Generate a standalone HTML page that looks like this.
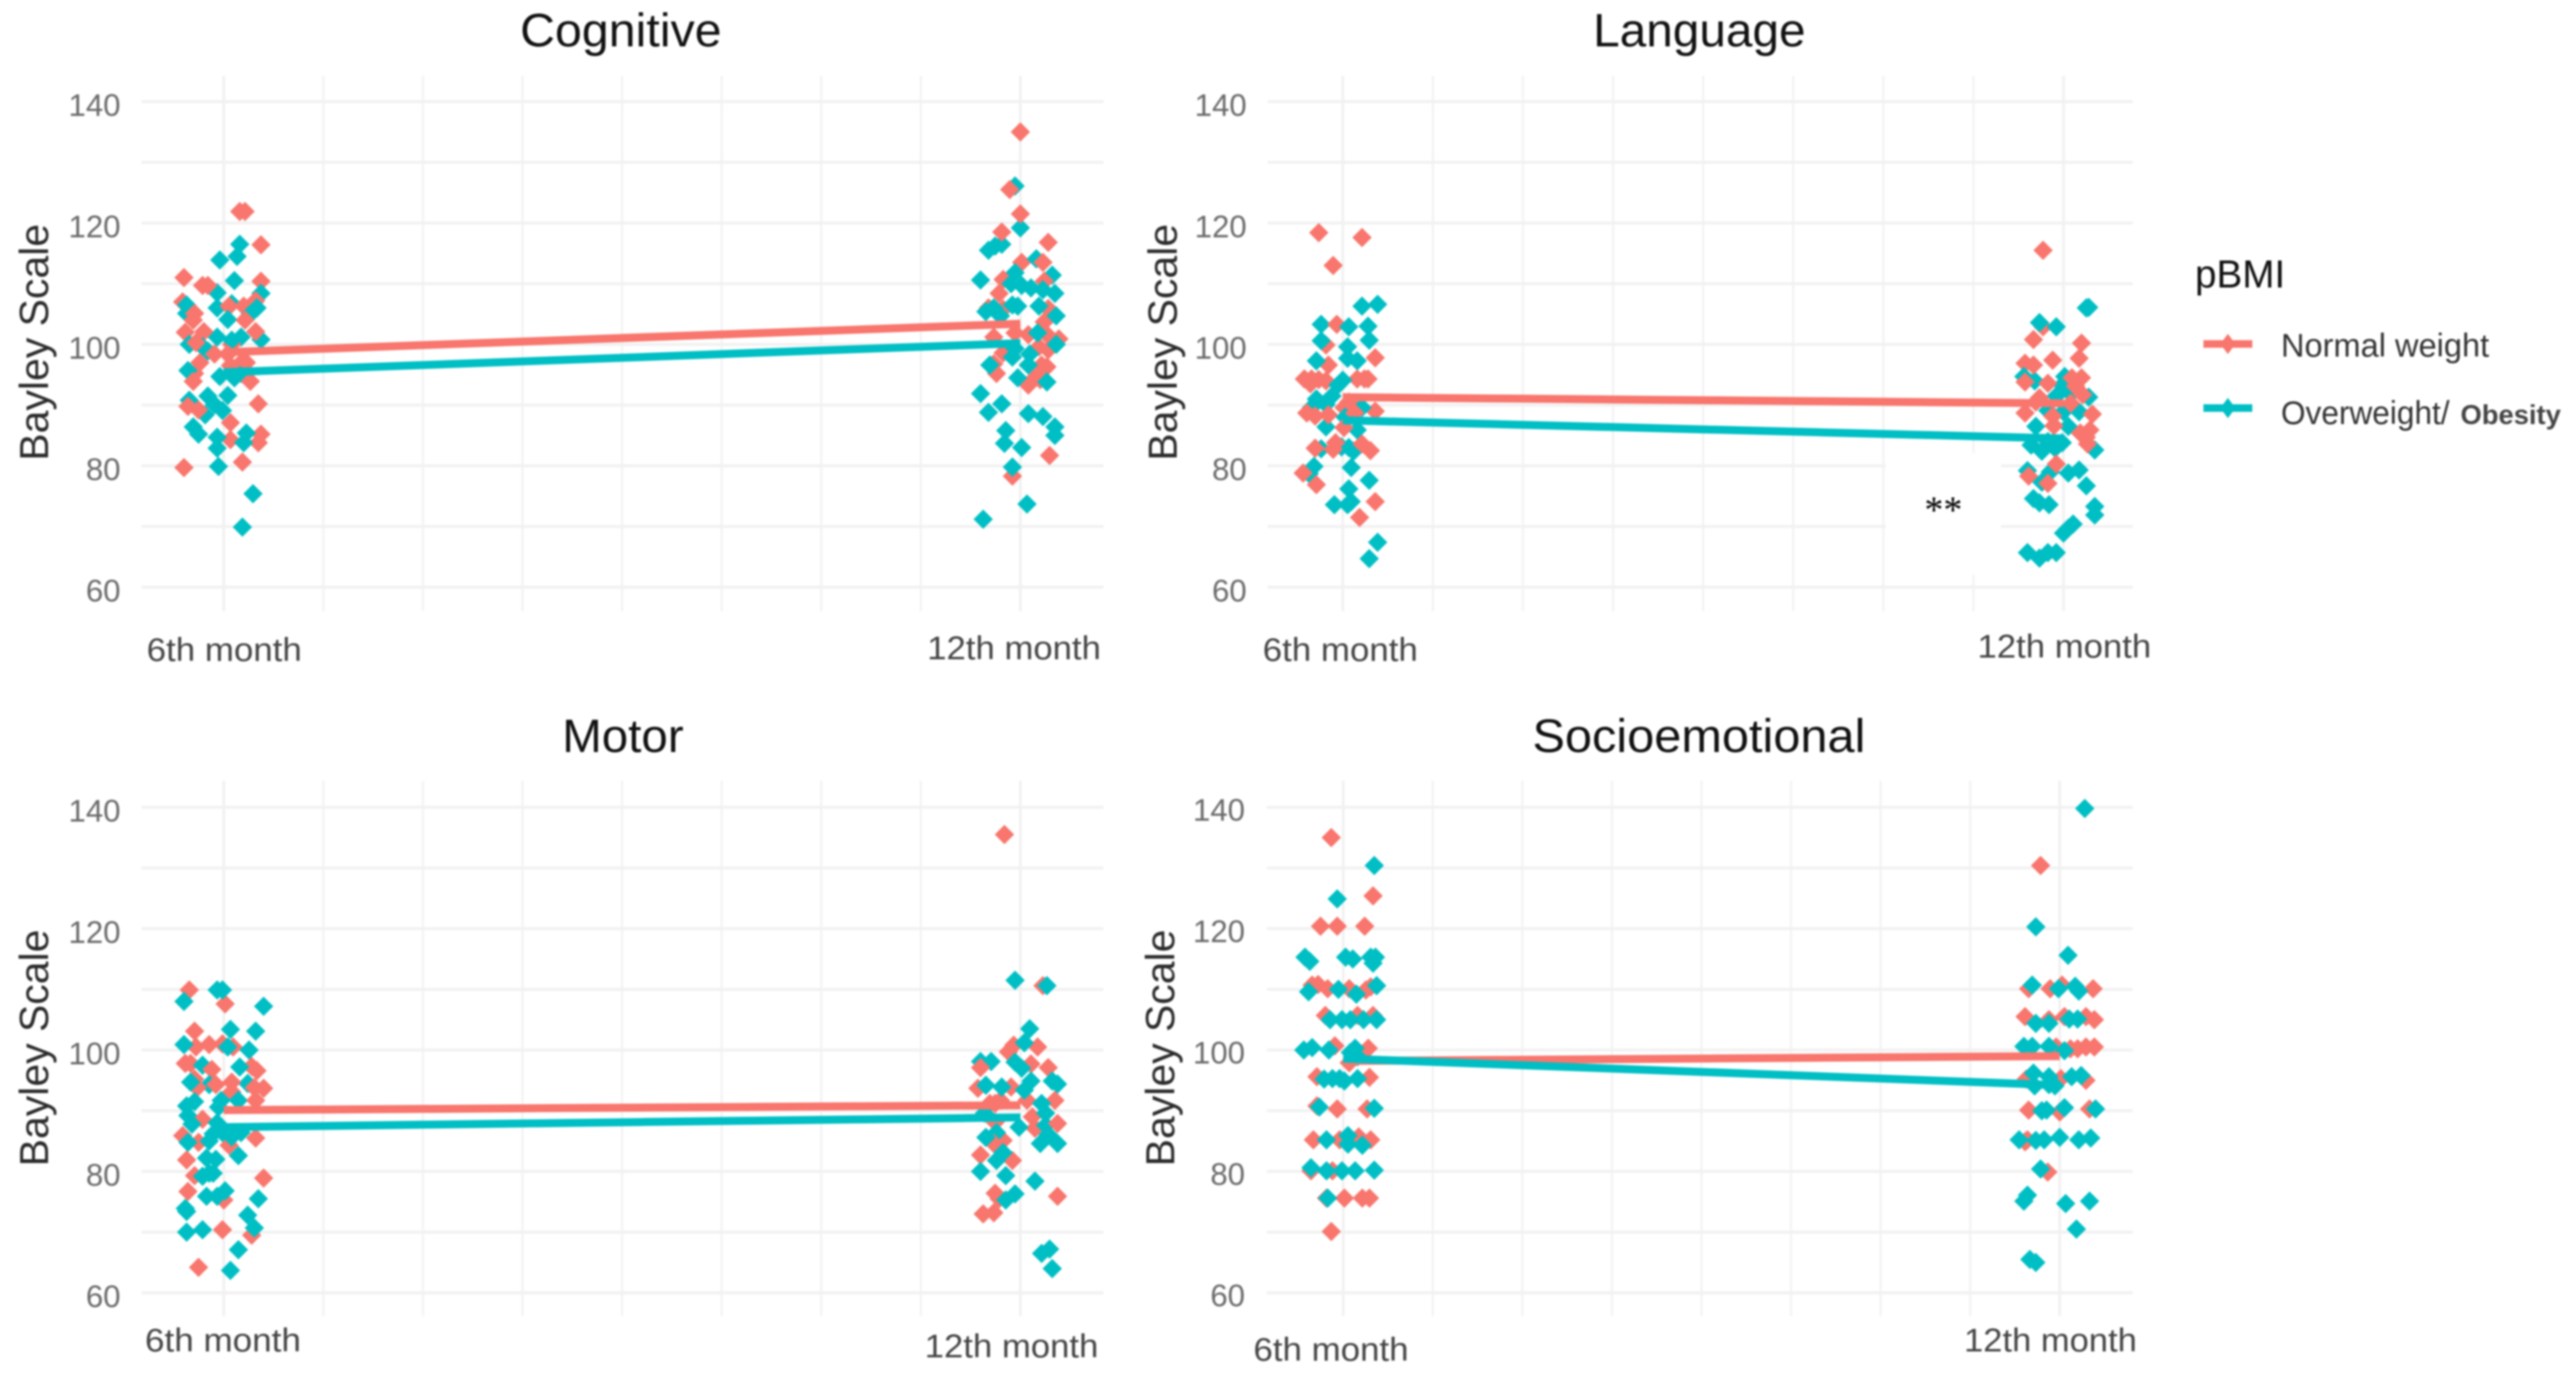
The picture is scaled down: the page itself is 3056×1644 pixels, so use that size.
<!DOCTYPE html>
<html lang="en">
<head>
<meta charset="utf-8">
<title>Bayley Scale by pBMI</title>
<style>
html,body{margin:0;padding:0;background:#fff;width:3056px;height:1644px;overflow:hidden}
svg{display:block;filter:blur(1px)}
text{font-family:"Liberation Sans",sans-serif}
.title{font-size:56px;fill:#111;text-anchor:start}
.ylab{font-size:48.6px;fill:#2b2b2b;text-anchor:middle}
.xtick{font-size:39px;fill:#444}
.ytick{font-size:37px;fill:#6a6a6a;text-anchor:end}
.leg{font-size:38.5px;fill:#333}
</style>
</head>
<body>
<svg id="figure" xmlns="http://www.w3.org/2000/svg" width="3056" height="1644" viewBox="0 0 3056 1644">
  <rect x="0" y="0" width="3056" height="1644" fill="#fff"/>
  <g id="panel-cognitive"></g>
  <g id="panel-language"></g>
  <g id="panel-motor"></g>
  <g id="panel-socioemotional"></g>

  <text class="title" x="617" y="55" textLength="239" lengthAdjust="spacingAndGlyphs">Cognitive</text>
  <text class="title" x="1890" y="55" textLength="252" lengthAdjust="spacingAndGlyphs">Language</text>
  <text class="title" x="667" y="892" textLength="144" lengthAdjust="spacingAndGlyphs">Motor</text>
  <text class="title" x="1818" y="892" textLength="395" lengthAdjust="spacingAndGlyphs">Socioemotional</text>

  <text class="ylab" transform="translate(57,406) rotate(-90)">Bayley Scale</text>
  <text class="ylab" transform="translate(1396,406) rotate(-90)">Bayley Scale</text>
  <text class="ylab" transform="translate(57,1243) rotate(-90)">Bayley Scale</text>
  <text class="ylab" transform="translate(1393,1243) rotate(-90)">Bayley Scale</text>

  <text class="xtick" x="174" y="784" textLength="184" lengthAdjust="spacingAndGlyphs">6th month</text>
  <text class="xtick" x="1100" y="782" textLength="206" lengthAdjust="spacingAndGlyphs">12th month</text>
  <text class="xtick" x="1498" y="784" textLength="184" lengthAdjust="spacingAndGlyphs">6th month</text>
  <text class="xtick" x="2346" y="780" textLength="206" lengthAdjust="spacingAndGlyphs">12th month</text>
  <text class="xtick" x="172" y="1603" textLength="185" lengthAdjust="spacingAndGlyphs">6th month</text>
  <text class="xtick" x="1097" y="1610" textLength="206" lengthAdjust="spacingAndGlyphs">12th month</text>
  <text class="xtick" x="1487" y="1614" textLength="184" lengthAdjust="spacingAndGlyphs">6th month</text>
  <text class="xtick" x="2330" y="1603" textLength="205" lengthAdjust="spacingAndGlyphs">12th month</text>

  <text x="2283" y="620" style="font-family:'Liberation Serif',serif;font-size:45px;fill:#000">**</text>

  <g>
    <text x="2604" y="341" style="font-size:46px;fill:#111" textLength="107" lengthAdjust="spacingAndGlyphs">pBMI</text>
    <g>
      <line x1="2614" x2="2672" y1="408" y2="408" stroke="#F8766D" stroke-width="9"/>
      <polygon points="2643,396 2652,408 2643,420 2634,408" fill="#F8766D"/>
      <text class="leg" x="2706" y="423" textLength="247" lengthAdjust="spacingAndGlyphs">Normal weight</text>
    </g>
    <g>
      <line x1="2614" x2="2672" y1="484" y2="484" stroke="#00BFC4" stroke-width="9"/>
      <polygon points="2643,472 2652,484 2643,496 2634,484" fill="#00BFC4"/>
      <text class="leg" x="2706" y="503" textLength="200" lengthAdjust="spacingAndGlyphs">Overweight/</text>
      <text x="2919" y="503" style="font-size:32px;font-weight:bold;fill:#444" textLength="119" lengthAdjust="spacingAndGlyphs">Obesity</text>
    </g>
  </g>
</svg>

<script>
// Axis values
const visitMonths = [6, 12];
const yTickLabels = [60, 80, 100, 120, 140];
const yGridValues = [60, 70, 80, 90, 100, 110, 120, 130, 140];
const xGridMonths = [6, 6.75, 7.5, 8.25, 9, 9.75, 10.5, 11.25, 12];

// Group means at the 6th and 12th month
const cognitiveNormalMeans = [98.7, 103.4];
const cognitiveOverweightMeans = [95.4, 100.2];
const languageNormalMeans = [91.3, 90.3];
const languageOverweightMeans = [87.5, 84.5];
const motorNormalMeans = [90.1, 90.9];
const motorOverweightMeans = [87.3, 88.9];
const socioNormalMeans = [98.2, 99.0];
const socioOverweightMeans = [98.6, 94.2];

// Individual scores: [jitter in hundredths of a month, Bayley score]
const cognitiveNormal6th = [[12,121.9],[16,121.9],[28,116.4],[-30,111],[28,110.4],[-16,109.7],[-12,109.7],[-31,107],[24,107.2],[15,106.3],[4,106.3],[-22,105.1],[-23,104],[16,104],[-29,102],[-15,102.1],[24,102.1],[6,100],[-21,100.3],[-18,97],[-22,95.2],[-23,93.9],[3,98.4],[13,97],[17,97],[5,96.5],[-7,98.4],[20,93.9],[26,90.2],[-27,89.8],[-19,89.2],[5,87.1],[5,84.3],[28,85.2],[26,83.8],[14,80.6],[-30,79.7]];
const cognitiveOverweight6th = [[12,116.5],[10,114.5],[-3,113.9],[8,110.5],[-5,108.5],[28,108.4],[-5,106],[6,106.7],[-28,106.5],[-28,105.1],[25,106],[20,105],[3,104.1],[-5,101.2],[13,101.2],[28,100.8],[-26,100],[-16,99.6],[-12,98.9],[6,100.7],[-27,95.7],[-3,94.7],[8,94.5],[13,95.2],[-26,90.8],[-12,91.5],[3,91.6],[-7,90.1],[-1,89.1],[-14,88.4],[-23,86.4],[-19,85.2],[-5,84.7],[-5,82.9],[17,85.4],[15,83.8],[-4,79.9],[22,75.4],[14,69.9]];
const cognitiveNormal12th = [[0,135],[-8,125.5],[0,121.5],[-14,118.5],[21,116.8],[1,113.5],[17,113.5],[-13,110.7],[-16,108.4],[18,110.4],[-13,105.8],[-24,106],[21,105.9],[18,103.7],[-4,101.9],[6,101.6],[-20,101.2],[21,101.4],[29,100.9],[14,99.6],[21,99.1],[-13,98.6],[-20,96.8],[-18,95.2],[16,96.6],[20,96.3],[11,94.5],[6,93.3],[15,94.2],[22,81.7],[-6,78.3]];
const cognitiveOverweight12th = [[-4,126.1],[0,119.2],[-14,116.5],[-19,116.2],[-24,115.5],[12,114.1],[-4,111.8],[24,111.4],[-30,110.6],[-7,110],[1,109.7],[8,109.3],[17,109],[26,108.4],[-6,106.5],[-2,106.3],[14,106.3],[-20,106],[-26,105.4],[-15,104.7],[27,104.7],[13,101.9],[27,100],[-4,99.3],[7,98.4],[-6,97.9],[6,96.6],[-23,96.6],[-2,94.5],[20,93.8],[-30,91.9],[-14,90.2],[-24,88.8],[6,88.6],[17,88.1],[26,86.4],[26,85],[-11,85.8],[-12,83.7],[1,83],[-6,79.8],[5,73.7],[-28,71.2]];

const languageNormal6th = [[-20,118.4],[16,117.6],[-8,113],[-5,103.3],[-14,99.9],[27,97.8],[-12,96.6],[-32,94.3],[-26,94.3],[-20,94.2],[-14,94],[12,94.3],[18,94.3],[21,94.3],[-27,93.5],[5,90.5],[1,89.6],[27,89],[-30,88.7],[-23,88.2],[-12,88.4],[10,88.7],[1,86.3],[-23,82.9],[-8,82.7],[-6,83.8],[16,83.6],[23,82.5],[-33,78.8],[-22,76.9],[27,74.1],[14,71.5]];
const languageOverweight6th = [[16,106.3],[29,106.6],[-18,103.3],[5,102.9],[21,103],[22,100.7],[-18,100.6],[4,99.6],[4,97.7],[12,97.3],[-22,97.3],[0,94.1],[-4,93.3],[-9,91.5],[-22,91],[-14,90.1],[-26,89.6],[16,89.6],[2,88],[-14,86.4],[12,85.9],[-18,82.8],[-1,83.1],[5,83],[9,82.4],[7,79.7],[-24,79.9],[-28,78.7],[22,77.6],[5,76.2],[7,74.1],[-7,73.6],[4,73.6],[29,67.4],[22,64.7]];
const languageNormal12th = [[-17,115.5],[-17,102.9],[-25,100.8],[15,100.2],[13,97.7],[-9,97.4],[-32,96.9],[-25,96.6],[-13,93.6],[-32,93.8],[7,94.5],[15,94.5],[10,93.1],[16,91.7],[-20,91.2],[-23,90.5],[-32,88.7],[6,90.3],[24,88.5],[-9,88.2],[-8,86.6],[22,85.9],[14,85.4],[19,84.7],[20,83.6],[-6,80.3],[-29,78.3],[-13,77.1]];
const languageOverweight12th = [[21,106.1],[19,106],[-20,103.6],[-6,102.9],[1,94.7],[-24,94],[-33,94.7],[-1,93.3],[-6,91.5],[6,91.9],[21,91.3],[-13,89.1],[0,88.9],[13,88.9],[-23,86.5],[4,86.5],[-1,83.8],[-27,83.4],[-18,82.4],[-7,82.9],[-13,84],[26,82.6],[-30,79.2],[-11,79],[4,78.8],[13,79.3],[-18,77.3],[19,76.7],[-25,74.6],[-20,73.9],[-12,73.6],[26,73.3],[26,71.9],[8,70.4],[4,69.7],[0,68.9],[-30,65.7],[-20,64.8],[-13,65.7],[-6,65.7]];

const motorNormal6th = [[-26,109.9],[1,107.6],[-22,103.1],[-21,100.5],[-11,100.9],[-1,101],[7,100.5],[-29,97.8],[-25,97.8],[21,97.3],[25,96.6],[-9,96.8],[-22,95.2],[-20,93.8],[-6,94.3],[6,94.7],[6,93.1],[23,93.8],[30,93.7],[24,91.7],[-16,88.6],[-31,85.9],[-19,84.8],[24,85.5],[4,84.3],[-28,81.9],[-22,79.3],[-27,76.7],[30,78.9],[0,75.3],[-1,70.4],[21,69.5],[-19,64.2]];
const motorOverweight6th = [[-5,109.9],[-1,109.9],[-30,108],[30,107.2],[5,103.4],[24,103.1],[-30,100.9],[3,100.5],[19,100],[-16,97.5],[12,97.2],[-11,94.3],[18,94.5],[-25,94.7],[-22,91.5],[-28,90.8],[-2,91.7],[11,91.7],[-4,90.6],[-27,89.2],[-24,87.8],[-5,88],[-8,86.2],[-27,84.8],[-11,85],[-1,86.4],[6,85.7],[13,86.4],[11,82.6],[-13,82.2],[-6,82],[-11,79.7],[-16,79.2],[-8,79.7],[-13,75.9],[-5,75.9],[1,76.8],[26,75.5],[-29,73.9],[-28,73.4],[18,72.8],[23,70.7],[-28,70],[-16,70.4],[11,67.1],[5,63.7]];
const motorNormal12th = [[-12,135.5],[17,110.6],[13,100.5],[-5,100.8],[-9,99.7],[8,97.7],[21,97.1],[-30,97.1],[-32,93.7],[-7,93.9],[26,91.7],[5,91.7],[-15,91.7],[-23,91.2],[-19,91.2],[9,89],[11,87.1],[28,87.9],[-19,88.1],[-13,85.1],[-20,84.6],[-30,82.7],[-6,81.8],[-19,76.4],[-16,75.5],[28,75.9],[-20,73.2],[-28,73]];
const motorOverweight12th = [[-4,111.5],[20,110.6],[7,103.5],[3,101.2],[-30,98.1],[-22,98.1],[-4,98],[1,97],[24,94.9],[28,94.4],[8,94.9],[3,93.4],[-26,94.2],[-14,93.9],[16,91.2],[19,89.6],[19,87.6],[-27,89.6],[-1,87.3],[-18,86.4],[-26,85.6],[21,86.1],[15,84.6],[28,84.6],[-13,83.1],[-18,81.8],[-30,80],[-11,79.3],[11,78.4],[-4,76.3],[-11,75.3],[16,66.5],[22,67.2],[24,64]];

const socioNormal6th = [[-10,135],[25,125.4],[-19,120.4],[-5,120.4],[18,120.4],[-26,110.7],[-21,110.8],[-13,110.1],[5,110.1],[19,109.9],[23,110.4],[-15,105.7],[12,105.7],[25,105.7],[-7,100.7],[21,100.3],[5,97.9],[-22,95.6],[22,95.5],[-22,90.8],[-5,90.3],[20,90.3],[-25,85.2],[-3,85.2],[13,85.7],[23,85.2],[-27,80.1],[-9,80.1],[-14,75.6],[1,75.6],[16,75.6],[22,75.6],[-10,70.1]];
const socioOverweight6th = [[26,130.4],[-5,124.9],[-32,115.3],[-28,114.6],[2,115.3],[8,115],[23,115.3],[27,115.3],[25,114.3],[-29,109.6],[-4,110],[11,109.2],[28,110.6],[-11,105],[-1,105],[6,105],[17,105],[28,105],[-33,100],[-26,100.4],[-12,100],[6,99.6],[10,100.3],[12,98.9],[-16,95.2],[-9,95.3],[-3,95.3],[1,94.9],[12,95.3],[-20,90.6],[26,90.4],[-14,85.2],[4,85.9],[4,84.5],[16,84.3],[-27,80.6],[-14,80.1],[-1,80.1],[10,80.1],[26,80.2],[-13,75.6]];
const socioNormal12th = [[-16,130.4],[-26,110.1],[-8,110.1],[2,110.7],[28,110.1],[-29,105.5],[-9,105],[4,105.5],[22,105.5],[29,105],[-3,100.5],[9,100.2],[15,100.2],[22,100.5],[29,100.5],[-28,95.2],[1,95.3],[22,95],[-26,90.1],[0,89.8],[25,90.3],[-27,85.2],[-29,84.9],[-10,79.9]];
const socioOverweight12th = [[21,139.8],[-20,120.3],[7,115.6],[-23,110.7],[-1,110.1],[13,110.5],[16,109.7],[-20,104.4],[-9,104.4],[8,105.1],[15,105.1],[-30,100.6],[-23,100.6],[-9,100.6],[4,99.9],[-22,96.2],[-9,95.6],[-9,94.3],[-21,94.1],[-4,94.1],[10,95.6],[18,95.8],[-15,90],[-11,90.1],[4,90.5],[30,90.3],[-34,85.2],[-20,85.1],[-13,85.2],[0,85.6],[16,85.2],[26,85.5],[-16,80.4],[-27,76.1],[-30,75.1],[5,74.7],[25,75.1],[14,70.5],[-25,65.5],[-20,65]];

const NORMAL_COLOR = '#F8766D';
const OVERWEIGHT_COLOR = '#00BFC4';
const SVG_NS = 'http://www.w3.org/2000/svg';

function makeNode(tag, attrs, parent) {
  const node = document.createElementNS(SVG_NS, tag);
  for (const key in attrs) node.setAttribute(key, attrs[key]);
  parent.appendChild(node);
  return node;
}

function drawPanel(cfg) {
  const root = document.getElementById(cfg.id);
  const xScale = m => cfg.x6 + (m - 6) * (cfg.x12 - cfg.x6) / 6;
  const yScale = v => cfg.y140 + (140 - v) * (cfg.y60 - cfg.y140) / 80;

  xGridMonths.forEach(m => {
    const strong = visitMonths.includes(m);
    const gridV = makeNode('line', {x1: xScale(m), x2: xScale(m), y1: cfg.gridTop, y2: cfg.gridBottom, stroke: '#f2f2f2', 'stroke-width': strong ? 3.5 : 2.5}, root);
    
    
  });
  yGridValues.forEach(v => {
    const gridH = makeNode('line', {x1: cfg.gridLeft, x2: cfg.gridRight, y1: yScale(v), y2: yScale(v), stroke: '#f1f1f1', 'stroke-width': 3.5}, root);
    
    
  });
  if (cfg.patch) {
    const patch = makeNode('rect', {x: cfg.patch[0], y: cfg.patch[1], width: cfg.patch[2], height: cfg.patch[3], fill: '#fff'}, root);
    
    
  }
  yTickLabels.forEach(v => {
    const tick = makeNode('text', {class: 'ytick', x: cfg.tickRight, y: yScale(v) + cfg.tickDy}, root);
    
    
    tick.textContent = v;
  });

  const drawDiamond = (month, point, color, label) => {
    const cx = xScale(month + point[0] / 100);
    const cy = yScale(point[1]);
    const r = 11.5;
    const mark = makeNode('polygon', {points: [cx, cy - r, cx + r, cy, cx, cy + r, cx - r, cy].join(' '), fill: color}, root);
    
    
  };

  visitMonths.forEach((month, visit) => {
    const normal = cfg.normal[visit];
    const over = cfg.over[visit];
    const count = Math.max(normal.length, over.length);
    for (let i = 0; i < count; i++) {
      if (normal[i]) drawDiamond(month, normal[i], NORMAL_COLOR, 'point-normal-weight');
      if (over[i]) drawDiamond(month, over[i], OVERWEIGHT_COLOR, 'point-overweight-obesity');
    }
  });

  const normalLine = makeNode('line', {x1: xScale(visitMonths[0]), x2: xScale(visitMonths[1]), y1: yScale(cfg.normalMeans[0]), y2: yScale(cfg.normalMeans[1]), stroke: NORMAL_COLOR, 'stroke-width': 9.5}, root);
  
  
  const overLine = makeNode('line', {x1: xScale(visitMonths[0]), x2: xScale(visitMonths[1]), y1: yScale(cfg.overMeans[0]), y2: yScale(cfg.overMeans[1]), stroke: OVERWEIGHT_COLOR, 'stroke-width': 9.5}, root);
  
  
}

drawPanel({id: 'panel-cognitive', x6: 265.5, x12: 1210.5, y140: 120.5, y60: 696.5, gridTop: 90, gridBottom: 725, gridLeft: 168, gridRight: 1309, tickRight: 143, tickDy: 17,
  normal: [cognitiveNormal6th, cognitiveNormal12th], over: [cognitiveOverweight6th, cognitiveOverweight12th], normalMeans: cognitiveNormalMeans, overMeans: cognitiveOverweightMeans});
drawPanel({id: 'panel-language', x6: 1593, x12: 2448, y140: 120.5, y60: 696.5, gridTop: 90, gridBottom: 725, gridLeft: 1504, gridRight: 2530, tickRight: 1479, tickDy: 17, patch: [2237, 537, 137, 145],
  normal: [languageNormal6th, languageNormal12th], over: [languageOverweight6th, languageOverweight12th], normalMeans: languageNormalMeans, overMeans: languageOverweightMeans});
drawPanel({id: 'panel-motor', x6: 265.5, x12: 1210.5, y140: 957.5, y60: 1533.5, gridTop: 926, gridBottom: 1561, gridLeft: 168, gridRight: 1309, tickRight: 143, tickDy: 17,
  normal: [motorNormal6th, motorNormal12th], over: [motorOverweight6th, motorOverweight12th], normalMeans: motorNormalMeans, overMeans: motorOverweightMeans});
drawPanel({id: 'panel-socioemotional', x6: 1593.5, x12: 2443.5, y140: 957.5, y60: 1533.5, gridTop: 926, gridBottom: 1561, gridLeft: 1503, gridRight: 2530, tickRight: 1477, tickDy: 16,
  normal: [socioNormal6th, socioNormal12th], over: [socioOverweight6th, socioOverweight12th], normalMeans: socioNormalMeans, overMeans: socioOverweightMeans});
</script>
</body>
</html>
